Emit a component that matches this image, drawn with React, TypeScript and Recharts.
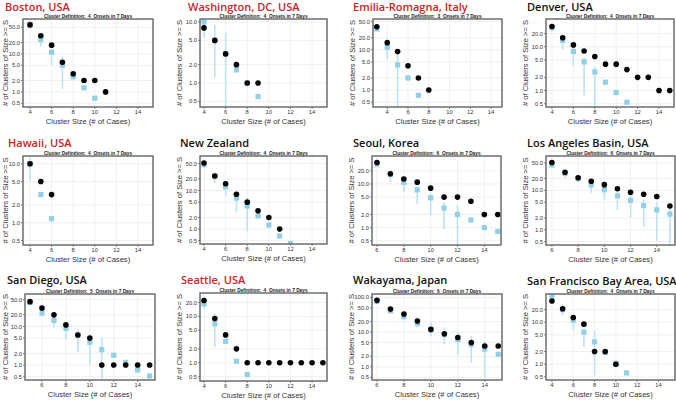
import React from 'react';
import { ScatterChart, Scatter, XAxis, YAxis, CartesianGrid, ErrorBar } from 'recharts';

// ---------- Data ----------
const bostonSizes = [4, 5, 6, 7, 8, 9, 10, 11];
const bostonObserved = [58, 30, 17, 6, 3, 2, 2, 1];
const bostonSimulated = [60, 23.6, 11.1, 5.0, 2.5, 1.28, 0.68, null];
const bostonLow = [52, 15.6, 5.1, 1.2, 2.3, null, null, null];
const bostonHigh = [70, 27, 12.7, 8.5, 2.8, null, null, null];

const dcSizes = [4, 5, 6, 7, 8, 9];
const dcObserved = [8, 5, 3, 2, 1, 1];
const dcSimulated = [10, 5, 3, 1.64, 1, 0.6];
const dcLow = [5.5, 1.23, 0.4, null, null, null];
const dcHigh = [10.8, 8.9, 6.6, null, null, null];

const emiliaSizes = [3, 4, 5, 6, 7, 8];
const emiliaObserved = [37, 15, 9, 4, 2, 1];
const emiliaSimulated = [33, 11.6, 4.2, 2, 0.74, null];
const emiliaLow = [29, 5.9, 0.38, null, null, null];
const emiliaHigh = [38, 13.7, 9.4, null, null, null];

const denverSizes = [4, 5, 6, 7, 8, 9, 10, 11, 12, 13, 14, 15];
const denverObserved = [29, 16, 11, 8, 6, 4, 4, 3, 2, 2, 1, 1];
const denverSimulated = [27, 14, 7.8, 4.5, 2.65, 1.55, 0.9, 0.54, null, null, null, null];
const denverLow = [23, 8.8, 3.7, 0.77, 0.42, null, null, null, null, null, null, null];
const denverHigh = [30, 18, 9.6, 5.7, 3.4, null, null, null, null, null, null, null];

const hawaiiSizes = [4, 5, 6];
const hawaiiObserved = [10, 5, 3];
const hawaiiSimulated = [10, 3, 1.17];
const hawaiiLow = [5.2, null, null];
const hawaiiHigh = [13, null, null];

const nzSizes = [4, 5, 6, 7, 8, 9, 10, 11, 12];
const nzObserved = [52, 24, 15, 8, 5, 3, 2, 1, null];
const nzSimulated = [47, 24, 12.5, 6.4, 4, 2.2, 1.27, 0.66, 0.42];
const nzLow = [40, 16, 7.3, 2.7, 0.89, null, null, null, null];
const nzHigh = [57, 26, 16, 8.9, 6.6, null, null, null, null];

const seoulSizes = [6, 7, 8, 9, 10, 11, 12, 13, 14, 15];
const seoulObserved = [31, 17, 13, 11, 8, 5, 5, 4, 2, 2];
const seoulSimulated = [28.4, 16.4, 10.9, 7.3, 4.8, 2.8, 2, 1.5, 1, 0.82];
const seoulLow = [24.6, 11.1, 6.5, 3.5, 1.9, 0.93, 0.4, null, null, null];
const seoulHigh = [32, 20.7, 12.2, 8.5, 6, 3.8, 3.2, null, null, null];

const laSizes = [6, 7, 8, 9, 10, 11, 12, 13, 14, 15];
const laObserved = [51, 29, 21, 17, 14, 11, 9, 8, 7, 4];
const laSimulated = [44, 27, 20, 13.8, 10.4, 7.3, 5.6, 4.1, 3.2, 2.5];
const laLow = [39, 21, 16, 8.7, 5.8, 3.2, 2.1, 1.2, 0.53, 0.41];
const laHigh = [52, 32, 23, 17.5, 13, 9.6, 7.9, 5.8, 4.8, 4.3];

const sdSizes = [5, 6, 7, 8, 9, 10, 11, 12, 13, 14, 15];
const sdObserved = [44, 30, 20, 11, 6, 5, 1, 1, 1, 1, 1];
const sdSimulated = [42.5, 22.5, 14.4, 8.9, 6, 3.9, 2.5, 1.8, 1.17, 0.75, 0.52];
const sdLow = [36, 18, 9.3, 4.7, 2.2, 1.1, 0.41, null, null, null, null];
const sdHigh = [48, 27, 18, 11.2, 8.4, 6.3, 5.2, null, null, null, null];

const seattleSizes = [4, 5, 6, 7, 8, 9, 10, 11, 12, 13, 14, 15];
const seattleObserved = [22, 9, 4, 2, 1, 1, 1, 1, 1, 1, 1, 1];
const seattleSimulated = [18.6, 6.9, 2.9, 1.08, 0.56, null, null, null, null, null, null, null];
const seattleLow = [14.6, 2.2, null, null, null, null, null, null, null, null, null, null];
const seattleHigh = [23.7, 11.4, null, null, null, null, null, null, null, null, null, null];

const wakayamaSizes = [6, 7, 8, 9, 10, 11, 12, 13, 14, 15];
const wakayamaObserved = [82, 46, 33, 21, 12, 9, 7, 5, 4, 4];
const wakayamaSimulated = [77, 41, 28, 17.5, 12, 8.5, 6.1, 4.4, 3.25, 2.3];
const wakayamaLow = [65, 36, 22, 13.5, 7.7, 4.5, 2.3, 1.3, 0.5, null];
const wakayamaHigh = [88, 50, 35, 26, 18.6, 13.6, 10, 7.8, 5.5, null];

const sfSizes = [4, 5, 6, 7, 8, 9, 10, 11];
const sfObserved = [32, 21, 13, 9, 2, 2, 1, null];
const sfSimulated = [42, 20, 11.1, 5.8, 3.4, 1.9, 1.05, 0.62];
const sfLow = [35.6, 14.4, 6.4, 2.6, 0.55, null, null, null];
const sfHigh = [47, 27, 13.1, 7, 6.3, null, null, null];

const yTickValues = [0.5, 1, 2, 5, 10, 20, 50, 100];
const xTickValues = [2, 4, 6, 8, 10, 12, 14];

// ---------- Panel configuration ----------
type Panel = {
  title: string; red: boolean; def: string;
  sizes: number[]; obs: (number | null)[]; sim: (number | null)[];
  low: (number | null)[]; high: (number | null)[];
  xd: [number, number]; yd: [number, number];
  box: [number, number, number, number]; titleX: number; titleY: number;
};

const def = (n: number, d: number) => `Cluster Definition:  ${n}  Onsets in ${d} Days`;

const panels: Panel[] = [
  { title: 'Boston, USA', red: true, def: def(4, 7), sizes: bostonSizes, obs: bostonObserved, sim: bostonSimulated, low: bostonLow, high: bostonHigh, xd: [3.35, 15.39], yd: [0.4, 83], box: [23, 19, 130, 88], titleX: 5, titleY: 10.5 },
  { title: 'Washington, DC, USA', red: true, def: def(4, 7), sizes: dcSizes, obs: dcObserved, sim: dcSimulated, low: dcLow, high: dcHigh, xd: [3.63, 15.38], yd: [0.405, 11.2], box: [200, 19, 127, 88], titleX: 188, titleY: 10.5 },
  { title: 'Emilia-Romagna, Italy', red: true, def: def(3, 7), sizes: emiliaSizes, obs: emiliaObserved, sim: emiliaSimulated, low: emiliaLow, high: emiliaHigh, xd: [2.63, 15.05], yd: [0.38, 58], box: [373, 19, 129, 88], titleX: 353, titleY: 10.5 },
  { title: 'Denver, USA', red: false, def: def(4, 7), sizes: denverSizes, obs: denverObserved, sim: denverSimulated, low: denverLow, high: denverHigh, xd: [3.44, 15.4], yd: [0.42, 43], box: [546, 19, 128, 88], titleX: 527, titleY: 10.5 },
  { title: 'Hawaii, USA', red: true, def: def(4, 7), sizes: hawaiiSizes, obs: hawaiiObserved, sim: hawaiiSimulated, low: hawaiiLow, high: hawaiiHigh, xd: [3.35, 15.39], yd: [0.42, 13.5], box: [23, 156, 130, 89], titleX: 8, titleY: 147 },
  { title: 'New Zealand', red: false, def: def(4, 7), sizes: nzSizes, obs: nzObserved, sim: nzSimulated, low: nzLow, high: nzHigh, xd: [3.63, 15.38], yd: [0.41, 79], box: [200, 156, 127, 88], titleX: 180, titleY: 147 },
  { title: 'Seoul, Korea', red: false, def: def(6, 7), sizes: seoulSizes, obs: seoulObserved, sim: seoulSimulated, low: seoulLow, high: seoulHigh, xd: [5.63, 15.24], yd: [0.4, 43.6], box: [372, 156, 129, 89], titleX: 353, titleY: 147 },
  { title: 'Los Angeles Basin, USA', red: false, def: def(6, 7), sizes: laSizes, obs: laObserved, sim: laSimulated, low: laLow, high: laHigh, xd: [5.55, 15.39], yd: [0.41, 74.7], box: [546, 156, 129, 89], titleX: 527, titleY: 147 },
  { title: 'San Diego, USA', red: false, def: def(5, 7), sizes: sdSizes, obs: sdObserved, sim: sdSimulated, low: sdLow, high: sdHigh, xd: [4.58, 15.45], yd: [0.41, 69.5], box: [25, 294, 130, 86], titleX: 7, titleY: 284 },
  { title: 'Seattle, USA', red: true, def: def(4, 7), sizes: seattleSizes, obs: seattleObserved, sim: seattleSimulated, low: seattleLow, high: seattleHigh, xd: [3.63, 15.38], yd: [0.405, 32], box: [200, 293, 127, 88], titleX: 181, titleY: 284 },
  { title: 'Wakayama, Japan', red: false, def: def(6, 7), sizes: wakayamaSizes, obs: wakayamaObserved, sim: wakayamaSimulated, low: wakayamaLow, high: wakayamaHigh, xd: [5.63, 15.28], yd: [0.42, 125], box: [372, 294, 130, 86], titleX: 353, titleY: 284 },
  { title: 'San Francisco Bay Area, USA', red: false, def: def(4, 7), sizes: sfSizes, obs: sfObserved, sim: sfSimulated, low: sfLow, high: sfHigh, xd: [3.44, 15.55], yd: [0.42, 47], box: [546, 294, 129, 86], titleX: 527, titleY: 285 },
];

const SIM_COLOR = '#93d0e6';
const BAR_COLOR = '#bde3f0';
const TICK_FONT = { fontSize: 5.8, fill: '#333', fontFamily: 'Liberation Sans, Arial, sans-serif' };
const YW = 30;
const TOPM = 2;
const XH = 12;
const RIGHTM = 2;

const ObsDot = (p: any) => <circle cx={p.cx} cy={p.cy} r={2.8} fill="#050505" />;
const SimSquare = (p: any) => <rect x={p.cx - 2.6} y={p.cy - 2.6} width={5.2} height={5.2} fill={SIM_COLOR} />;

function PanelChart({ p }: { p: Panel }) {
  const [bl, bt, bw, bh] = p.box;
  const obsData = p.sizes
    .map((x, i) => (p.obs[i] == null ? null : { x, y: p.obs[i] as number }))
    .filter(Boolean) as { x: number; y: number }[];
  const simData = p.sizes
    .map((x, i) => {
      const s = p.sim[i];
      if (s == null) return null;
      const lo = p.low[i];
      const hi = p.high[i];
      const err = lo == null || hi == null ? [0, 0] : [s - lo, hi - s];
      return { x, y: s, err };
    })
    .filter(Boolean) as { x: number; y: number; err: number[] }[];
  const yt = yTickValues.filter((t) => t >= p.yd[0] && t <= p.yd[1]);
  const xt = xTickValues.filter((t) => t >= p.xd[0] && t <= p.xd[1]);
  return (
    <div style={{ position: 'absolute', left: bl - YW, top: bt - TOPM }}>
      <ScatterChart
        width={bw + YW + RIGHTM}
        height={bh + TOPM + XH}
        margin={{ top: TOPM, right: RIGHTM, bottom: 0, left: 0 }}
      >
        <CartesianGrid stroke="#ececec" strokeWidth={0.8} />
        <XAxis
          type="number"
          dataKey="x"
          domain={p.xd}
          allowDataOverflow
          ticks={xt}
          interval={0}
          height={XH}
          axisLine={false}
          tickSize={2}
          tickMargin={1}
          tickLine={{ stroke: '#666', strokeWidth: 0.8 }}
          tick={TICK_FONT}
        />
        <YAxis
          type="number"
          dataKey="y"
          scale="log"
          domain={p.yd}
          allowDataOverflow
          ticks={yt}
          interval={0}
          width={YW}
          axisLine={false}
          tickSize={2}
          tickMargin={1}
          tickLine={{ stroke: '#666', strokeWidth: 0.8 }}
          tick={TICK_FONT}
          tickFormatter={(v: number) => v.toFixed(1)}
        />
        <Scatter data={simData} shape={SimSquare} isAnimationActive={false}>
          <ErrorBar dataKey="err" direction="y" width={0} stroke={BAR_COLOR} strokeWidth={1.6} />
        </Scatter>
        <Scatter data={obsData} shape={ObsDot} isAnimationActive={false} />
      </ScatterChart>
    </div>
  );
}

export default function App() {
  return (
    <div style={{ position: 'absolute', left: 0, top: 0, width: 676, height: 401, background: '#fff', overflow: 'hidden' }}>
      {panels.map((p, i) => (
        <PanelChart key={i} p={p} />
      ))}
      <svg width={676} height={401} style={{ position: 'absolute', left: 0, top: 0, pointerEvents: 'none' }}>
        {panels.map((p, i) => {
          const [bl, bt, bw, bh] = p.box;
          const cx = bl + bw / 2;
          const cy = bt + bh / 2;
          const lx = Math.max(5, bl - 21);
          return (
            <g key={i}>
              <rect x={bl} y={bt} width={bw} height={bh} fill="none" stroke="#666" strokeWidth={1.4} />
              <text x={p.titleX} y={p.titleY} fontFamily="'Open Sans', sans-serif" fontWeight={600} fontSize={11} fill={p.red ? '#cc2229' : '#111'}>
                {p.title}
              </text>
              <text x={cx} y={bt - 0.9} textAnchor="middle" fontFamily="Liberation Sans, Arial, sans-serif" fontWeight={700} fontSize={4.8} fill="#222" style={{ whiteSpace: 'pre' }}>
                {p.def}
              </text>
              <text x={cx} y={bt + bh + 17} textAnchor="middle" fontFamily="Liberation Sans, Arial, sans-serif" fontSize={7.6} fill="#333">
                Cluster Size (# of Cases)
              </text>
              <text transform={`translate(${lx},${cy}) rotate(-90)`} textAnchor="middle" dominantBaseline="central" fontFamily="Liberation Sans, Arial, sans-serif" fontSize={7.6} fill="#333">
                {'# of Clusters of Size >= S'}
              </text>
            </g>
          );
        })}
      </svg>
    </div>
  );
}
